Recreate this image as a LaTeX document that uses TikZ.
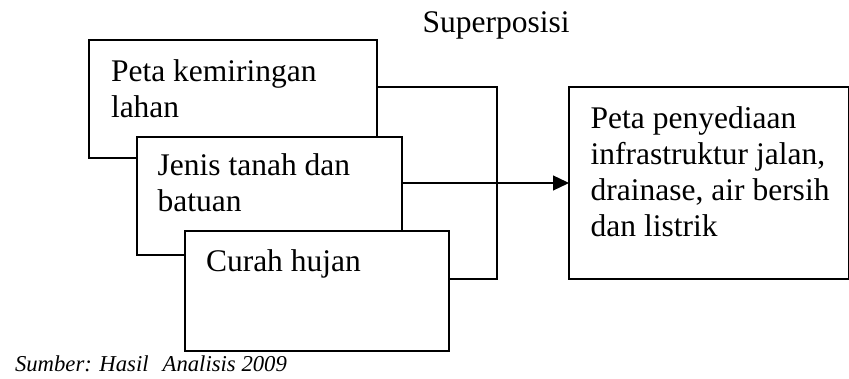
\documentclass[tikz,border=0pt]{standalone}
\usepackage{fontspec}
\setmainfont{Liberation Serif}
\usetikzlibrary{arrows.meta}
\tikzset{
  x=1pt, y=-1pt,
  boxnode/.style={draw=black, line width=1.3pt, fill=white, inner sep=0pt, outer sep=0pt, anchor=north west},
  txt/.style={inner sep=0pt, outer sep=0pt, anchor=base west, font=\fontsize{31.5}{36}\selectfont},
  src/.style={inner sep=0pt, outer sep=0pt, anchor=base west, font=\fontsize{22.7}{26}\selectfont\itshape},
  conn/.style={draw=black, line width=1.3pt},
}
\begin{document}
\begin{tikzpicture}
\useasboundingbox (0,0) rectangle (849,379);
% boxes (drawn back to front)
\node[boxnode, minimum width=288pt, minimum height=118pt] (b1) at (89,40) {};
\node[boxnode, minimum width=265pt, minimum height=118pt] (b2) at (137,137) {};
\node[boxnode, minimum width=264pt, minimum height=120pt] (b3) at (185,231) {};
\node[boxnode, minimum width=279.3pt, minimum height=192pt] (b4) at (569,87) {};
% texts
\node[txt] (sp) at (422.7,33) {Superposisi};
\node[txt] (t1a) at (111,81.7) {Peta kemiringan};
\node[txt] (t1b) at (111,117.3) {lahan};
\node[txt] (t2a) at (157.7,175.7) {Jenis tanah dan};
\node[txt] (t2b) at (157.7,211.7) {batuan};
\node[txt] (t3) at (206,271.7) {Curah hujan};
\node[txt] (t4a) at (590.7,128.3) {Peta penyediaan};
\node[txt] (t4b) at (590.7,164.3) {infrastruktur jalan,};
\node[txt] (t4c) at (590.7,200.3) {drainase, air bersih};
\node[txt] (t4d) at (590.7,236.3) {dan listrik};
\node[src] (sumber) at (15,372) {Sumber: Hasil\hspace{14pt}Analisis 2009};
% connectors
\coordinate (jtop) at (497,87);
\coordinate (jbot) at (497,279);
\draw[conn] (b1.east |- jtop) -- (jtop) -- (jbot) -- (b3.east |- jbot);
\draw[conn, -{Triangle[length=16pt,width=15pt]}] (b2.east |- b4.west) -- (b4.west);
\end{tikzpicture}
\end{document}
